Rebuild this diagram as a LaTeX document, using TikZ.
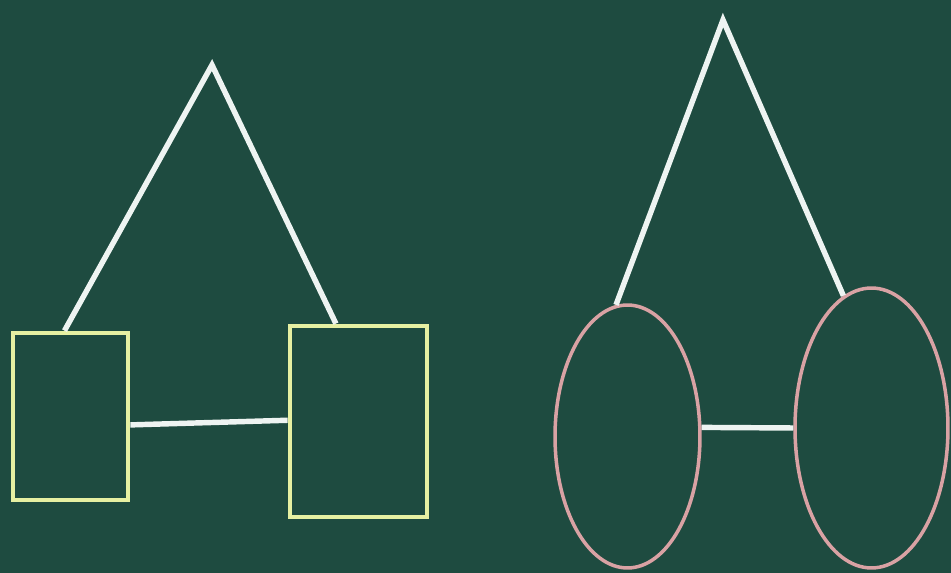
\documentclass[tikz,border=0pt]{standalone}
\usepackage{xcolor}
\usepackage{tikz}
\usetikzlibrary{shapes.geometric}
\definecolor{board}{HTML}{1E4B40}
\definecolor{chalk}{HTML}{EEF4F2}
\definecolor{yel}{HTML}{E6F0A2}
\definecolor{rose}{HTML}{D9A2A4}

\begin{document}
\begin{tikzpicture}[x=0.02cm, y=-0.02cm,
  sqbox/.style={draw=yel, line width=2.7pt, inner sep=0pt, minimum width=#1},
  ringbox/.style={ellipse, draw=rose, line width=2pt, inner sep=0pt},
  stick/.style={chalk, line width=3.1pt}]
  % Board
  \fill[board] (0,0) rectangle (951,573);
  \useasboundingbox (0,0) rectangle (951,573);
  % Left figure: two squares
  \node[sqbox=2.3cm, minimum height=3.34cm] (sqA) at (70.5,416.5) {};
  \node[sqbox=2.74cm, minimum height=3.82cm] (sqB) at (358.5,421.5) {};
  \coordinate (topA) at (212,65);
  \draw[stick] (sqA.94) -- (topA) -- (sqB.103);
  \draw[stick] (sqA.-8) -- (sqB.179);
  % Right figure: two ellipses
  \node[ringbox, minimum width=2.9cm, minimum height=5.26cm] (ellA) at (627.5,436.5) {};
  \node[ringbox, minimum width=3.06cm, minimum height=5.6cm] (ellB) at (871.5,428) {};
  \coordinate (topB) at (723,20);
  \draw[stick] (ellA.95) -- (topB) -- (ellB.102);
  \draw[stick] (ellA.7) -- (ellB.west);
\end{tikzpicture}
\end{document}
